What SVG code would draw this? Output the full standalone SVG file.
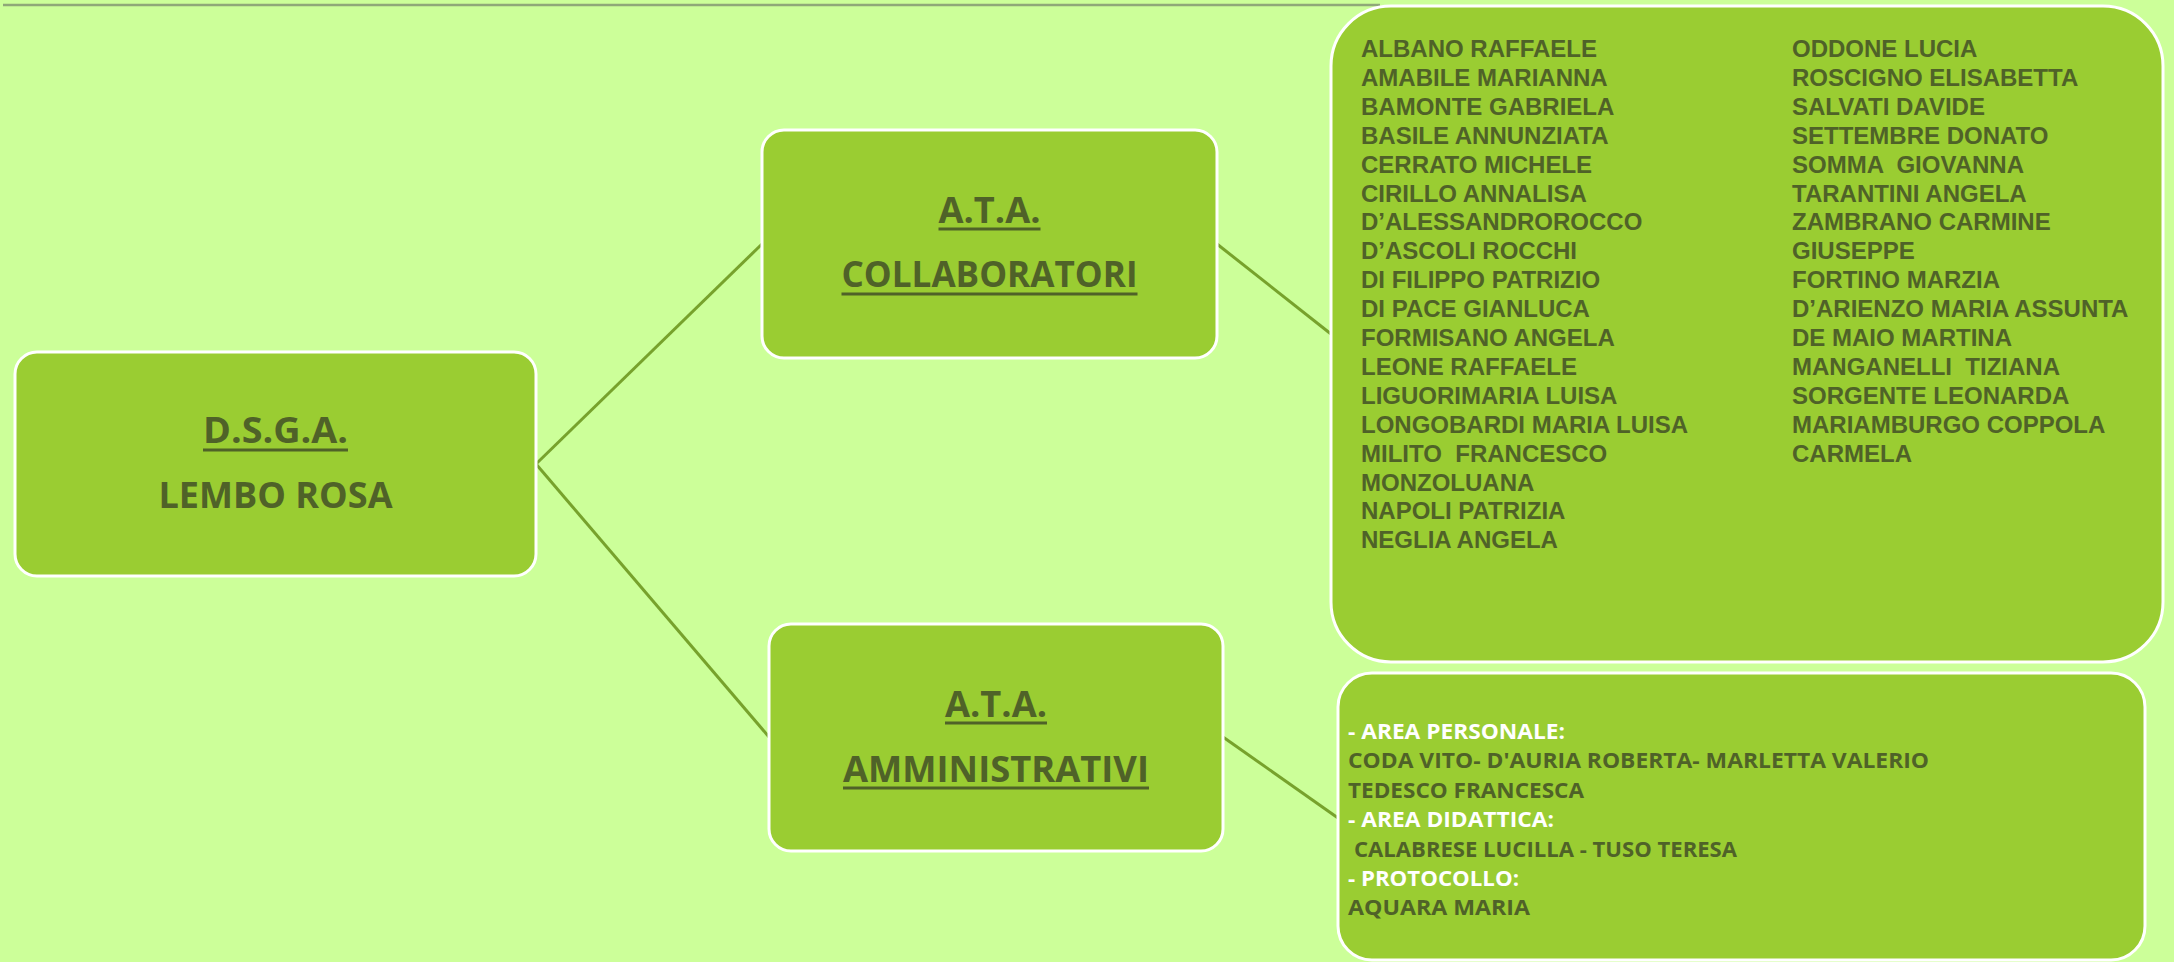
<svg xmlns="http://www.w3.org/2000/svg" width="2174" height="962" viewBox="0 0 2174 962">
<style>
.box{fill:#9ACD32;stroke:#FFFFFF;stroke-width:3}
.conn{stroke:#77A22C;stroke-width:3;fill:none}
.head{font-family:"Open Sans",Lato,"Liberation Sans",sans-serif;font-weight:bold;font-size:36px;fill:#4F6228;text-anchor:middle}
.ul{stroke:#4F6228;stroke-width:3}
.name{font-family:"Liberation Sans",Arial,sans-serif;font-weight:bold;font-size:24px;fill:#4F6228;white-space:pre}
.adm{font-family:"Open Sans",Lato,"Liberation Sans",sans-serif;font-weight:bold;font-size:22px;fill:#4F6228;white-space:pre}
.admh{fill:#FFFFFF}
</style>
<rect x="0" y="0" width="2174" height="962" fill="#CCFF99"/>
<line x1="3" y1="5" x2="1380" y2="5" stroke="#8FA878" stroke-width="2.5"/>
<g id="connectors">
<line class="conn" x1="536" y1="464" x2="762" y2="244"/>
<line class="conn" x1="536" y1="464" x2="769" y2="737"/>
<line class="conn" x1="1217" y1="244" x2="1331" y2="334"/>
<line class="conn" x1="1223" y1="737" x2="1338" y2="818"/>
</g>
<g id="dsga">
<rect class="box" x="15" y="352" width="521" height="224" rx="22" ry="22"/>
<text class="head" x="275.5" y="443" textLength="145" lengthAdjust="spacingAndGlyphs">D.S.G.A.</text>
<line class="ul" x1="203" y1="450" x2="348" y2="450"/>
<text class="head" x="275.5" y="508" textLength="234" lengthAdjust="spacingAndGlyphs">LEMBO ROSA</text>
</g>
<g id="ata-collaboratori">
<rect class="box" x="762" y="130" width="455" height="228" rx="22" ry="22"/>
<text class="head" x="989.5" y="223" textLength="102" lengthAdjust="spacingAndGlyphs">A.T.A.</text>
<line class="ul" x1="938.5" y1="229" x2="1040.5" y2="229"/>
<text class="head" x="989.5" y="287" textLength="296" lengthAdjust="spacingAndGlyphs">COLLABORATORI</text>
<line class="ul" x1="841.5" y1="294" x2="1137.5" y2="294"/>
</g>
<g id="ata-amministrativi">
<rect class="box" x="769" y="624" width="454" height="227" rx="22" ry="22"/>
<text class="head" x="996" y="717" textLength="102" lengthAdjust="spacingAndGlyphs">A.T.A.</text>
<line class="ul" x1="945" y1="723" x2="1047" y2="723"/>
<text class="head" x="996" y="782" textLength="306" lengthAdjust="spacingAndGlyphs">AMMINISTRATIVI</text>
<line class="ul" x1="843" y1="788" x2="1149" y2="788"/>
</g>
<g id="collaboratori-list">
<rect class="box" x="1331" y="6" width="832" height="656" rx="60" ry="60"/>
<text class="name" x="1361" y="57">ALBANO RAFFAELE</text>
<text class="name" x="1361" y="85.9">AMABILE MARIANNA</text>
<text class="name" x="1361" y="114.8">BAMONTE GABRIELA</text>
<text class="name" x="1361" y="143.7">BASILE ANNUNZIATA</text>
<text class="name" x="1361" y="172.6">CERRATO MICHELE</text>
<text class="name" x="1361" y="201.5">CIRILLO ANNALISA</text>
<text class="name" x="1361" y="230.4">D’ALESSANDROROCCO</text>
<text class="name" x="1361" y="259.3">D’ASCOLI ROCCHI</text>
<text class="name" x="1361" y="288.2">DI FILIPPO PATRIZIO</text>
<text class="name" x="1361" y="317.1">DI PACE GIANLUCA</text>
<text class="name" x="1361" y="346">FORMISANO ANGELA</text>
<text class="name" x="1361" y="374.9">LEONE RAFFAELE</text>
<text class="name" x="1361" y="403.8">LIGUORIMARIA LUISA</text>
<text class="name" x="1361" y="432.7">LONGOBARDI MARIA LUISA</text>
<text class="name" x="1361" y="461.6">MILITO  FRANCESCO</text>
<text class="name" x="1361" y="490.5">MONZOLUANA</text>
<text class="name" x="1361" y="519.4">NAPOLI PATRIZIA</text>
<text class="name" x="1361" y="548.3">NEGLIA ANGELA</text>
<text class="name" x="1792" y="57">ODDONE LUCIA</text>
<text class="name" x="1792" y="85.9">ROSCIGNO ELISABETTA</text>
<text class="name" x="1792" y="114.8">SALVATI DAVIDE</text>
<text class="name" x="1792" y="143.7">SETTEMBRE DONATO</text>
<text class="name" x="1792" y="172.6">SOMMA  GIOVANNA</text>
<text class="name" x="1792" y="201.5">TARANTINI ANGELA</text>
<text class="name" x="1792" y="230.4">ZAMBRANO CARMINE</text>
<text class="name" x="1792" y="259.3">GIUSEPPE</text>
<text class="name" x="1792" y="288.2">FORTINO MARZIA</text>
<text class="name" x="1792" y="317.1">D’ARIENZO MARIA ASSUNTA</text>
<text class="name" x="1792" y="346">DE MAIO MARTINA</text>
<text class="name" x="1792" y="374.9">MANGANELLI  TIZIANA</text>
<text class="name" x="1792" y="403.8">SORGENTE LEONARDA</text>
<text class="name" x="1792" y="432.7">MARIAMBURGO COPPOLA</text>
<text class="name" x="1792" y="461.6">CARMELA</text>
</g>
<g id="amministrativi-list">
<rect class="box" x="1338" y="673" width="807" height="287" rx="34" ry="34"/>
<text class="adm admh" x="1348" y="739" textLength="217" lengthAdjust="spacingAndGlyphs">- AREA PERSONALE:</text>
<text class="adm" x="1348" y="768.4" textLength="581" lengthAdjust="spacingAndGlyphs">CODA VITO- D'AURIA ROBERTA- MARLETTA VALERIO</text>
<text class="adm" x="1348" y="797.8" textLength="236" lengthAdjust="spacingAndGlyphs">TEDESCO FRANCESCA</text>
<text class="adm admh" x="1348" y="827.2" textLength="206" lengthAdjust="spacingAndGlyphs">- AREA DIDATTICA:</text>
<text class="adm" x="1354" y="856.6" textLength="383" lengthAdjust="spacingAndGlyphs">CALABRESE LUCILLA - TUSO TERESA</text>
<text class="adm admh" x="1348" y="886" textLength="171" lengthAdjust="spacingAndGlyphs">- PROTOCOLLO:</text>
<text class="adm" x="1348" y="915.4" textLength="182" lengthAdjust="spacingAndGlyphs">AQUARA MARIA</text>
</g>
</svg>
